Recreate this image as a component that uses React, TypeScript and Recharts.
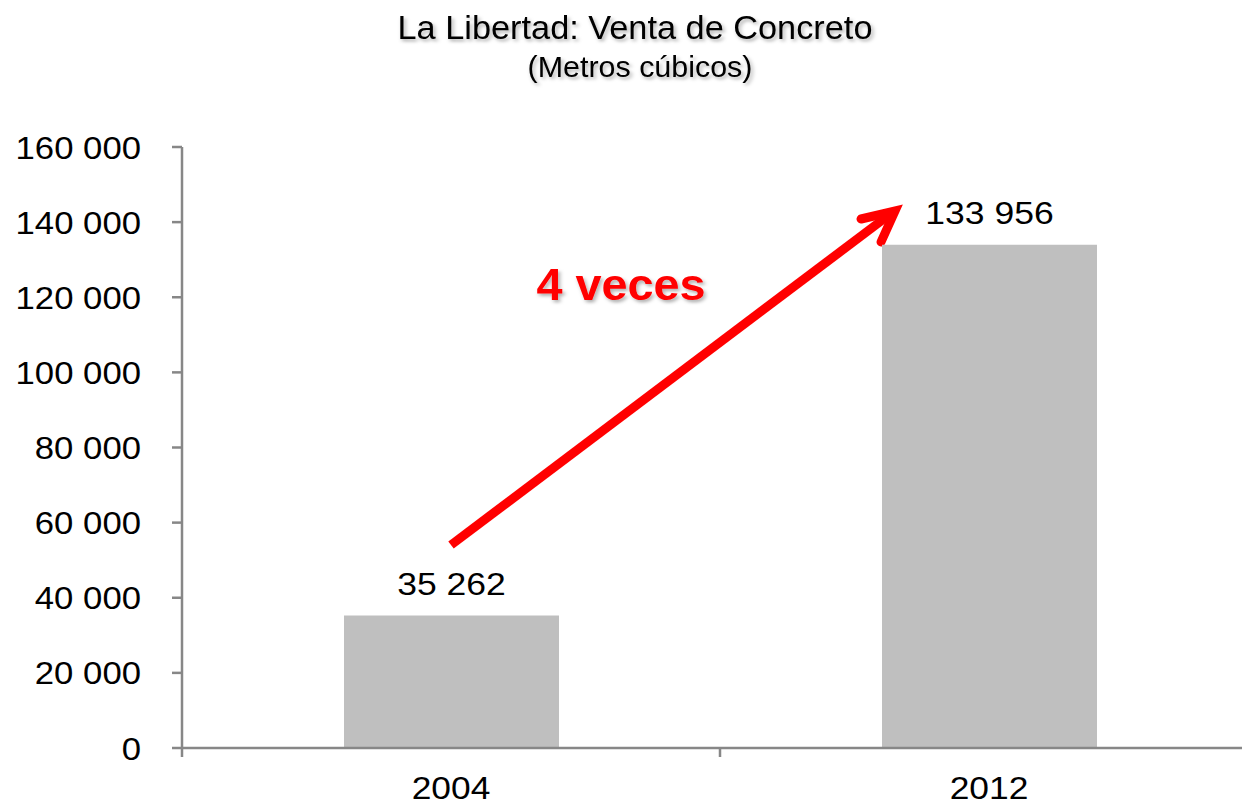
import React from 'react';
import { BarChart, Bar, XAxis, YAxis, LabelList, Customized } from 'recharts';

const categories = ['2004', '2012'];
const values = [35262, 133956];
const yTicks = [0, 20000, 40000, 60000, 80000, 100000, 120000, 140000, 160000];
const titleText = 'La Libertad: Venta de Concreto';
const subtitleText = '(Metros cúbicos)';
const annotationText = '4 veces';

const data = categories.map((c, i) => ({ year: c, value: values[i] }));

const W = 1270;
const H = 806;
const PLOT_LEFT = 182;
const PLOT_RIGHT = 1258;
const PLOT_TOP = 147;
const PLOT_BOTTOM = 748;
const BW = (PLOT_RIGHT - PLOT_LEFT) / categories.length;
const AXIS = '#878787';
const FONT = '"Liberation Sans", Arial, sans-serif';

const fmt = (n: number) => String(n).replace(/\B(?=(\d{3})+(?!\d))/g, ' ');

function SText(props: any) {
  const { x, y, sx = 1, anchor = 'middle', size, weight = 'normal', fill = '#000', filter, children } = props;
  return (
    <text
      transform={`translate(${x},${y}) scale(${sx},1)`}
      x={0}
      y={0}
      textAnchor={anchor}
      fontFamily={FONT}
      fontSize={size}
      fontWeight={weight}
      fill={fill}
      filter={filter}
    >
      {children}
    </text>
  );
}

function YTick(props: any) {
  const { y, payload } = props;
  return (
    <SText x={141} y={y + 11.5} sx={1.12} anchor="end" size={31}>
      {fmt(payload.value)}
    </SText>
  );
}

function XTick(props: any) {
  const { x, payload, index } = props;
  return (
    <g>
      <SText x={x} y={799} sx={1.14} size={31}>
        {payload.value}
      </SText>
      <line x1={x + BW / 2} y1={PLOT_BOTTOM} x2={x + BW / 2} y2={PLOT_BOTTOM + 9} stroke={AXIS} strokeWidth={2.5} />
      {index === 0 && (
        <line x1={x - BW / 2} y1={PLOT_BOTTOM} x2={x - BW / 2} y2={PLOT_BOTTOM + 9} stroke={AXIS} strokeWidth={2.5} />
      )}
    </g>
  );
}

function BarLabel(props: any) {
  const { x, y, width, value } = props;
  return (
    <SText x={x + width / 2} y={y - 21} sx={1.11} size={32}>
      {fmt(value)}
    </SText>
  );
}

function Annotations() {
  return (
    <g>
      <defs>
        <filter id="shadow" x="-10%" y="-30%" width="120%" height="160%">
          <feDropShadow dx="2" dy="2.5" stdDeviation="1.8" floodColor="#000" floodOpacity="0.3" />
        </filter>
      </defs>
      <SText x={635} y={39} sx={1.04} size={33} filter="url(#shadow)">
        {titleText}
      </SText>
      <SText x={640} y={77} sx={1.05} size={29} filter="url(#shadow)">
        {subtitleText}
      </SText>
      <line x1={451} y1={545} x2={893} y2={212} stroke="#FF0000" strokeWidth={9} />
      <polyline
        points="861,219 895,211 881,242"
        fill="none"
        stroke="#FF0000"
        strokeWidth={9}
        strokeLinecap="round"
        strokeLinejoin="miter"
      />
      <SText x={621} y={300} sx={1.04} size={45} weight="bold" fill="#FF0000" filter="url(#shadow)">
        {annotationText}
      </SText>
    </g>
  );
}

export default function App() {
  return (
    <div
      style={{
        position: 'absolute',
        left: 0,
        top: 0,
        width: 1242,
        height: 806,
        overflow: 'hidden',
        background: '#ffffff',
      }}
    >
      <BarChart
        width={W}
        height={H}
        data={data}
        margin={{ top: PLOT_TOP, right: W - PLOT_RIGHT, bottom: 0, left: 0 }}
      >
        <XAxis
          dataKey="year"
          height={H - PLOT_BOTTOM}
          interval={0}
          tickLine={false}
          axisLine={{ stroke: AXIS, strokeWidth: 2.5 }}
          tick={<XTick />}
        />
        <YAxis
          width={PLOT_LEFT}
          domain={[0, 160000]}
          ticks={yTicks}
          interval={0}
          tickSize={10}
          tickLine={{ stroke: AXIS, strokeWidth: 2.5 }}
          axisLine={{ stroke: AXIS, strokeWidth: 2.5 }}
          tick={<YTick />}
        />
        <Bar dataKey="value" fill="#BFBFBF" barSize={215} isAnimationActive={false}>
          <LabelList dataKey="value" content={<BarLabel />} />
        </Bar>
        <Customized component={<Annotations />} />
      </BarChart>
    </div>
  );
}
